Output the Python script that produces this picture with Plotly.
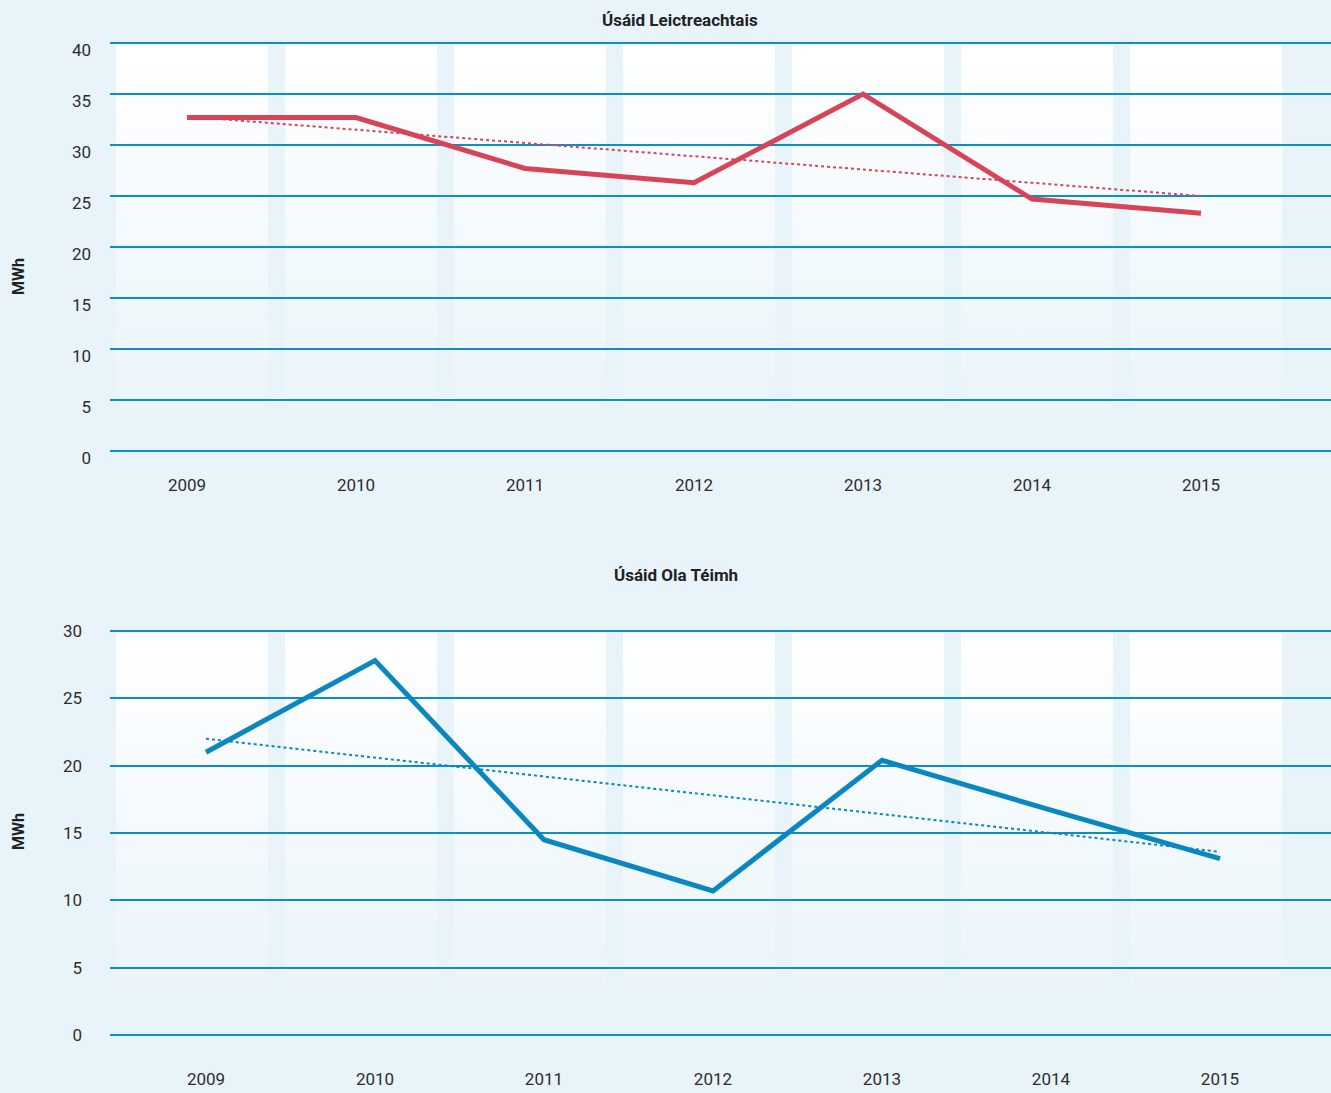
import base64
import plotly.graph_objects as go

# Daten
years = ["2009", "2010", "2011", "2012", "2013", "2014", "2015"]
electricity = [32.7, 32.7, 27.7, 26.3, 35.0, 24.7, 23.3]
electricity_trend = [32.8, 25.0]
heating_oil = [21.0, 27.8, 14.5, 10.7, 20.4, 16.7, 13.1]
heating_oil_trend = [22.0, 13.6]

title_top = "Úsáid Leictreachtais"
title_bottom = "Úsáid Ola Téimh"
unit = "MWh"

bg = "#e9f4fa"
grid = "#0a8fc6"
red = "#d84457"
blue = "#0a86c0"
txt = "#2d2d2d"
font = "Roboto"

idx = list(range(len(years)))

# Hintergrund-Spalten mit Verlauf (weiss -> hellblau)
svg = ('<svg xmlns="http://www.w3.org/2000/svg" width="10" height="100" preserveAspectRatio="none">'
       '<defs><linearGradient id="g" x1="0" y1="0" x2="0" y2="1">'
       '<stop offset="0" stop-color="#ffffff"/><stop offset="1" stop-color="' + bg + '"/>'
       '</linearGradient></defs><rect width="10" height="100" fill="url(#g)"/></svg>')
panel_src = "data:image/svg+xml;base64," + base64.b64encode(svg.encode()).decode()

fig = go.Figure()

fig.add_trace(go.Scatter(x=[idx[0], idx[-1]], y=electricity_trend, mode="lines",
                         line=dict(color=red, width=2, dash="dot"),
                         xaxis="x", yaxis="y", hoverinfo="skip"))
fig.add_trace(go.Scatter(x=idx, y=electricity, mode="lines",
                         line=dict(color=red, width=5),
                         xaxis="x", yaxis="y"))
fig.add_trace(go.Scatter(x=[idx[0], idx[-1]], y=heating_oil_trend, mode="lines",
                         line=dict(color=blue, width=2, dash="dot"),
                         xaxis="x2", yaxis="y2", hoverinfo="skip"))
fig.add_trace(go.Scatter(x=idx, y=heating_oil, mode="lines",
                         line=dict(color=blue, width=5),
                         xaxis="x2", yaxis="y2"))

images = []
for i in idx:
    images.append(dict(source=panel_src, xref="x", yref="y", x=i - 0.42, y=40,
                       sizex=0.9, sizey=37, xanchor="left", yanchor="top",
                       sizing="stretch", layer="below"))
    images.append(dict(source=panel_src, xref="x2", yref="y2", x=i - 0.533, y=30,
                       sizex=0.9, sizey=27.5, xanchor="left", yanchor="top",
                       sizing="stretch", layer="below"))

W, H = 1331, 1093
L = 110
pw = W - L

def xax(rng, standoff):
    return dict(range=rng, tickvals=idx, ticktext=years, showgrid=False,
                zeroline=False, showline=False, ticks="", automargin=False,
                ticklabelstandoff=standoff,
                tickfont=dict(family=font, size=17, color=txt))

def yax(rng, dtick, domain, anchor, shift, standoff):
    return dict(range=rng, dtick=dtick, domain=domain, anchor=anchor,
                showgrid=True, gridcolor=grid, gridwidth=2,
                zeroline=True, zerolinecolor=grid, zerolinewidth=2,
                showline=False, ticks="", ticklabelshift=shift,
                ticklabelstandoff=standoff, automargin=False,
                tickfont=dict(family=font, size=17, color=txt))

fig.update_layout(
    width=W, height=H,
    margin=dict(l=L, r=0, t=0, b=0),
    paper_bgcolor=bg, plot_bgcolor=bg,
    showlegend=False,
    images=images,
    xaxis=dict(**xax([-0.4556, 6.7692], 22), anchor="y", domain=[0, 1]),
    yaxis=yax([0, 40.2], 5, [1 - 451 / H, 1 - 41 / H], "x", 7, 18),
    xaxis2=dict(**xax([-0.568, 6.657], 32), anchor="y2", domain=[0, 1]),
    yaxis2=yax([0, 30.15], 5, [1 - 1035 / H, 1 - 629 / H], "x2", 0, 27),
)

def ann(text, px, py, size, angle=0):
    fig.add_annotation(text="<b>" + text + "</b>", xref="paper", yref="paper",
                       x=(px - L) / pw, y=1 - py / H, showarrow=False,
                       textangle=angle, xanchor="center", yanchor="middle",
                       font=dict(family=font, size=size, color="#222222"))

ann(title_top, 680, 20, 17)
ann(title_bottom, 676, 575, 17)
ann(unit, 18, 277, 16, -90)
ann(unit, 18, 832, 16, -90)

fig.write_html("out.html", config={"displayModeBar": False},
               post_script="document.body.style.margin='0';")
